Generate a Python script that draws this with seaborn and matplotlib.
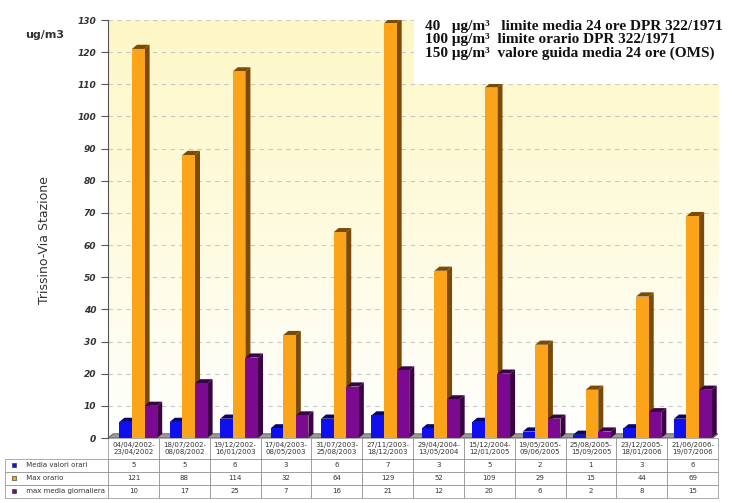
import numpy as np
import pandas as pd
import matplotlib
matplotlib.use("Agg")
import matplotlib.pyplot as plt
import seaborn as sns
from matplotlib.patches import Polygon

# periodi di campionamento
periodi = [
    "04/04/2002-\n23/04/2002", "18/07/2002-\n08/08/2002", "19/12/2002-\n16/01/2003",
    "17/04/2003-\n08/05/2003", "31/07/2003-\n25/08/2003", "27/11/2003-\n18/12/2003",
    "29/04/2004-\n13/05/2004", "15/12/2004-\n12/01/2005", "19/05/2005-\n09/06/2005",
    "25/08/2005-\n15/09/2005", "23/12/2005-\n18/01/2006", "21/06/2006-\n19/07/2006",
]
media_valori_orari = [5, 5, 6, 3, 6, 7, 3, 5, 2, 1, 3, 6]
max_orario = [121, 88, 114, 32, 64, 129, 52, 109, 29, 15, 44, 69]
max_media_giornaliera = [10, 17, 25, 7, 16, 21, 12, 20, 6, 2, 8, 15]
serie = ["Media valori orari", "Max orario", "max media giornaliera"]
colori = ["#1010ee", "#fba41a", "#7c0a90"]
colori_lato = ["#06066e", "#7a4a08", "#3a0444"]

df = pd.DataFrame({
    "periodo": periodi * 3,
    "serie": [serie[0]] * 12 + [serie[1]] * 12 + [serie[2]] * 12,
    "valore": media_valori_orari + max_orario + max_media_giornaliera,
})

fig = plt.figure(figsize=(7.32, 5.03), dpi=100)
ax = fig.add_axes([108 / 732, 1 - 438 / 503, 610 / 732, 418 / 503])

# sfondo giallo sfumato (parete di fondo)
grad = np.linspace(0, 1, 256).reshape(-1, 1)
cmap = matplotlib.colors.LinearSegmentedColormap.from_list("wall", ["#ffffff", "#fefbe0", "#fdf7c6"])
ax.imshow(grad, extent=[0, 1, 0, 1], transform=ax.transAxes, cmap=cmap,
          origin="lower", aspect="auto", zorder=0)

sns.barplot(data=df, x="periodo", y="valore", hue="serie", palette=colori,
            saturation=1, width=0.75, ax=ax, legend=False, zorder=3, edgecolor="none")

# effetto 3D: lato e tetto delle barre
dx, dy = 0.1, 1.3
for i, p in enumerate(ax.patches[:36]):
    k = i // 12
    x0, y0 = p.get_x() + 0.1, p.get_y()
    w, h = p.get_width(), p.get_height()
    p.set_x(x0)
    lato = Polygon([[x0 + w, y0], [x0 + w + dx, y0 + dy], [x0 + w + dx, h + dy], [x0 + w, h]],
                   closed=True, facecolor=colori_lato[k], edgecolor="none", zorder=2.9)
    tetto = Polygon([[x0, h], [x0 + dx, h + dy], [x0 + w + dx, h + dy], [x0 + w, h]],
                    closed=True, facecolor=colori_lato[k], edgecolor="none", zorder=2.9)
    ax.add_patch(lato)
    ax.add_patch(tetto)

# pavimento grigio
ax.add_patch(Polygon([[-0.5, 0], [-0.4, 1.3], [11.6, 1.3], [11.5, 0]], closed=True,
                     facecolor="#9a9a9a", edgecolor="#555555", lw=0.6, zorder=2))

ax.set_xlim(-0.5, 11.6)
ax.set_ylim(0, 130)
ax.set_yticks(range(0, 131, 10))
ax.set_xticks([])
ax.set_xlabel("")
ax.set_ylabel("")
ax.yaxis.grid(True, linestyle=(0, (4, 4)), color="#c8c8c8", lw=0.8, zorder=1)
ax.set_axisbelow(True)
for s in ["top", "right", "bottom"]:
    ax.spines[s].set_visible(False)
ax.spines["left"].set_color("#555555")
ax.tick_params(axis="y", length=5, color="#555555", labelsize=6.5, labelcolor="#333333")
for t in ax.get_yticklabels():
    t.set_fontstyle("italic")
    t.set_fontweight("bold")

fig.text(45 / 732, 1 - 240 / 503, "Trissino-Via Stazione", rotation=90, ha="center",
         va="center", fontsize=9, color="#333333")
fig.text(45 / 732, 1 - 35 / 503, "ug/m3", ha="center", va="center", fontsize=8,
         fontweight="bold", color="#333333")

# riquadro limiti
testo = ("40   \u03bcg/m\u00b3   limite media 24 ore DPR 322/1971\n"
         "100 \u03bcg/m\u00b3  limite orario DPR 322/1971\n"
         "150 \u03bcg/m\u00b3  valore guida media 24 ore (OMS)")
fig.patches.append(matplotlib.patches.Rectangle((414 / 732, 1 - 84 / 503), 318 / 732, 68 / 503,
                                                transform=fig.transFigure, facecolor="white",
                                                edgecolor="none", zorder=5))
fig.text(425 / 732, 1 - 20 / 503, testo, ha="left", va="top",
         fontsize=11, fontweight="bold", family="Liberation Serif", color="#111111",
         linespacing=1.05, zorder=6)

# tabella dati
celle = [[str(v) for v in media_valori_orari],
         [str(v) for v in max_orario],
         [str(v) for v in max_media_giornaliera]]
lab_w = 103 / 610
tab_h = 60 / 418
tab = ax.table(cellText=celle, rowLabels=["     " + s for s in serie], colLabels=periodi,
               cellLoc="center", rowLoc="left",
               bbox=[0, -tab_h, 1, tab_h])
tab._autoColumns = []
tab.auto_set_font_size(False)
tab.set_fontsize(5)
for (r, c), cell in tab.get_celld().items():
    cell.set_edgecolor("#8a8a8a")
    cell.set_linewidth(0.5)
    cell.get_text().set_color("#333333")
    cell.set_width(lab_w if c == -1 else 1 / 12)
    cell.set_height(1.6 if r == 0 else 1.0)

# quadratini della legenda
row_h = tab_h / 4.6
for k in range(3):
    yk = -tab_h + row_h * (2.5 - k)
    ax.plot([-lab_w + 0.014], [yk], marker="s", ms=3.5, color=colori[k],
            mec="#222222", mew=0.4, transform=ax.transAxes, clip_on=False)

fig.savefig("out.png", dpi=100)
